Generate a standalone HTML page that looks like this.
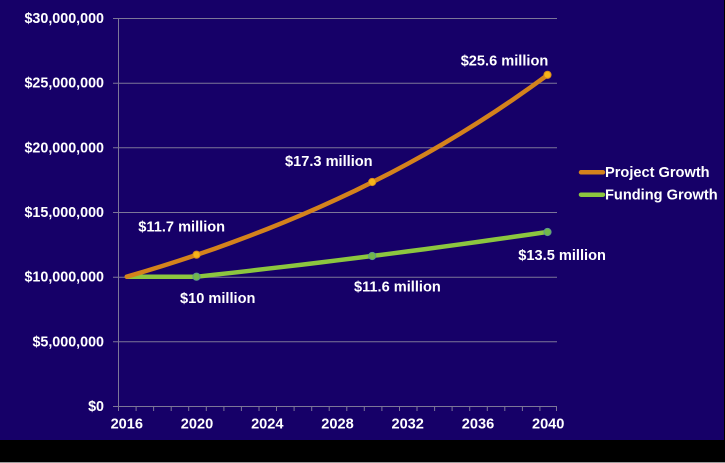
<!DOCTYPE html>
<html>
<head>
<meta charset="utf-8">
<style>
html,body{margin:0;padding:0;background:#000;}
svg{display:block;}
text{font-family:"Liberation Sans",Arial,sans-serif;font-weight:bold;font-size:14.6px;fill:#ffffff;}
text.yl{font-size:14.3px;}
</style>
</head>
<body>
<svg width="725" height="463" viewBox="0 0 725 463" xmlns="http://www.w3.org/2000/svg">
  <rect x="0" y="0" width="725" height="463" fill="#000000"/>
  <rect x="0" y="0" width="724" height="440" fill="#160068"/>
  <rect x="0" y="462" width="725" height="1" fill="#9a9a9a"/>

  <!-- gridlines -->
  <g stroke="#7c7698" stroke-width="1">
    <line x1="113" y1="18.5" x2="557" y2="18.5"/>
    <line x1="113" y1="83.2" x2="557" y2="83.2"/>
    <line x1="113" y1="147.8" x2="557" y2="147.8"/>
    <line x1="113" y1="212.5" x2="557" y2="212.5"/>
    <line x1="113" y1="277.2" x2="557" y2="277.2"/>
    <line x1="113" y1="341.8" x2="557" y2="341.8"/>
    <line x1="113" y1="406.5" x2="557" y2="406.5"/>
    <line x1="118.5" y1="18" x2="118.5" y2="407"/>
  </g>
  <!-- x ticks -->
  <g stroke="#7c7698" stroke-width="1">
    <line x1="118.5" y1="406" x2="118.5" y2="411"/>
    <line x1="136.1" y1="406" x2="136.1" y2="411"/>
    <line x1="153.6" y1="406" x2="153.6" y2="411"/>
    <line x1="171.2" y1="406" x2="171.2" y2="411"/>
    <line x1="188.7" y1="406" x2="188.7" y2="411"/>
    <line x1="206.3" y1="406" x2="206.3" y2="411"/>
    <line x1="223.9" y1="406" x2="223.9" y2="411"/>
    <line x1="241.4" y1="406" x2="241.4" y2="411"/>
    <line x1="259.0" y1="406" x2="259.0" y2="411"/>
    <line x1="276.5" y1="406" x2="276.5" y2="411"/>
    <line x1="294.1" y1="406" x2="294.1" y2="411"/>
    <line x1="311.7" y1="406" x2="311.7" y2="411"/>
    <line x1="329.2" y1="406" x2="329.2" y2="411"/>
    <line x1="346.8" y1="406" x2="346.8" y2="411"/>
    <line x1="364.3" y1="406" x2="364.3" y2="411"/>
    <line x1="381.9" y1="406" x2="381.9" y2="411"/>
    <line x1="399.5" y1="406" x2="399.5" y2="411"/>
    <line x1="417.0" y1="406" x2="417.0" y2="411"/>
    <line x1="434.6" y1="406" x2="434.6" y2="411"/>
    <line x1="452.1" y1="406" x2="452.1" y2="411"/>
    <line x1="469.7" y1="406" x2="469.7" y2="411"/>
    <line x1="487.3" y1="406" x2="487.3" y2="411"/>
    <line x1="504.8" y1="406" x2="504.8" y2="411"/>
    <line x1="522.4" y1="406" x2="522.4" y2="411"/>
    <line x1="539.9" y1="406" x2="539.9" y2="411"/>
    <line x1="556.5" y1="406" x2="556.5" y2="411"/>
  </g>

  <!-- y labels -->
  <g text-anchor="end">
    <text class="yl" x="104" y="23">$30,000,000</text>
    <text class="yl" x="104" y="87.7">$25,000,000</text>
    <text class="yl" x="104" y="152.3">$20,000,000</text>
    <text class="yl" x="104" y="217">$15,000,000</text>
    <text class="yl" x="104" y="281.7">$10,000,000</text>
    <text class="yl" x="104" y="346.3">$5,000,000</text>
    <text class="yl" x="104" y="411">$0</text>
  </g>
  <!-- x labels -->
  <g text-anchor="middle">
    <text x="126.8" y="428.3">2016</text>
    <text x="197.0" y="428.3">2020</text>
    <text x="267.3" y="428.3">2024</text>
    <text x="337.5" y="428.3">2028</text>
    <text x="407.7" y="428.3">2032</text>
    <text x="478.0" y="428.3">2036</text>
    <text x="548.2" y="428.3">2040</text>
  </g>

  <!-- Funding Growth -->
  <polyline fill="none" stroke="#8cc63f" stroke-width="4.5" stroke-linejoin="round" stroke-linecap="round"
    points="126.8,276.7 144.3,276.7 161.9,276.7 179.5,276.7 197.0,276.7 214.6,274.7 232.1,272.8 249.7,270.8 267.3,268.7 284.8,266.7 302.4,264.6 319.9,262.5 337.5,260.3 355.1,258.1 372.6,255.9 390.2,253.7 407.7,251.4 425.3,249.1 442.9,246.7 460.4,244.3 478.0,241.9 495.5,239.4 513.1,236.9 530.7,234.4 548.2,231.8"/>
  <!-- Project Growth -->
  <polyline fill="none" stroke="#d4821c" stroke-width="4.5" stroke-linejoin="round" stroke-linecap="round"
    points="126.8,276.7 144.3,271.5 161.9,266.1 179.5,260.5 197.0,254.7 214.6,248.7 232.1,242.4 249.7,235.8 267.3,229.0 284.8,221.9 302.4,214.6 319.9,206.9 337.5,198.9 355.1,190.7 372.6,182.0 390.2,173.1 407.7,163.8 425.3,154.1 442.9,144.0 460.4,133.5 478.0,122.6 495.5,111.3 513.1,99.5 530.7,87.2 548.2,74.5"/>

  <!-- markers -->
  <g stroke="#d98a1c" stroke-width="1" fill="#f6b419">
    <circle cx="196.5" cy="254.7" r="3.6"/>
    <circle cx="372.2" cy="182.0" r="3.6"/>
    <circle cx="547.5" cy="74.8" r="3.6"/>
  </g>
  <g stroke="#5e9a8a" stroke-width="1" fill="#72b84a">
    <circle cx="196.5" cy="276.7" r="3.6"/>
    <circle cx="372.2" cy="256.0" r="3.6"/>
    <circle cx="547.5" cy="232.0" r="3.6"/>
  </g>

  <!-- data labels -->
  <text x="460.7" y="65.5">$25.6 million</text>
  <text x="285" y="166">$17.3 million</text>
  <text x="138.3" y="231.5">$11.7 million</text>
  <text x="180" y="303">$10 million</text>
  <text x="354" y="291.5">$11.6 million</text>
  <text x="518.3" y="260">$13.5 million</text>

  <!-- legend -->
  <line x1="581" y1="172.3" x2="603" y2="172.3" stroke="#d4821c" stroke-width="4.5" stroke-linecap="round"/>
  <line x1="581" y1="194.7" x2="603" y2="194.7" stroke="#8cc63f" stroke-width="4.5" stroke-linecap="round"/>
  <text x="605" y="177">Project Growth</text>
  <text x="605" y="199.3">Funding Growth</text>
</svg>
</body>
</html>
